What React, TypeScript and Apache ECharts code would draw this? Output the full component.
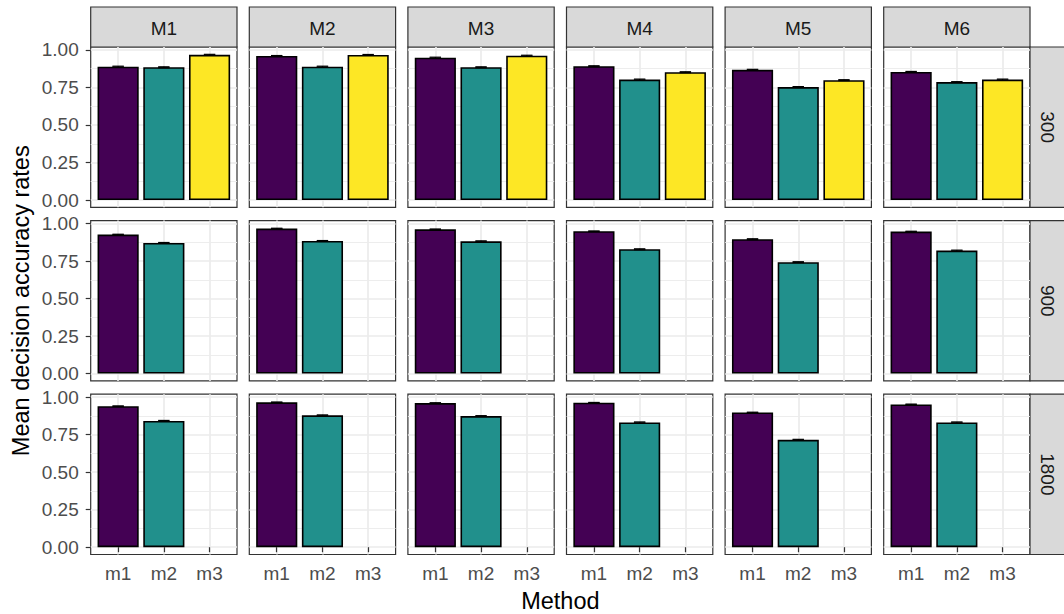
import React, { useEffect, useRef } from "react";
import * as echarts from "echarts";

// Facets
const models = ["M1", "M2", "M3", "M4", "M5", "M6"];
const sampleSizes = ["300", "900", "1800"];
const methods = ["m1", "m2", "m3"];
const methodColors = ["#440154", "#21908C", "#FDE725"];

// Mean decision accuracy per model (M1..M6), by sample size and method
const m1_300 = [0.889, 0.96, 0.949, 0.892, 0.868, 0.854];
const m2_300 = [0.885, 0.889, 0.885, 0.803, 0.753, 0.786];
const m3_300 = [0.968, 0.967, 0.962, 0.852, 0.799, 0.803];
const m1_900 = [0.927, 0.967, 0.962, 0.949, 0.896, 0.947];
const m2_900 = [0.871, 0.884, 0.882, 0.829, 0.743, 0.82];
const m1_1800 = [0.94, 0.966, 0.961, 0.963, 0.898, 0.952];
const m2_1800 = [0.842, 0.879, 0.874, 0.832, 0.716, 0.832];

// Standard errors
const se_m1_300 = [0.003, 0.003, 0.003, 0.003, 0.003, 0.003];
const se_m2_300 = [0.003, 0.003, 0.003, 0.003, 0.003, 0.003];
const se_m3_300 = [0.003, 0.003, 0.003, 0.003, 0.003, 0.003];
const se_m1_900 = [0.002, 0.002, 0.002, 0.002, 0.003, 0.002];
const se_m2_900 = [0.003, 0.003, 0.003, 0.003, 0.003, 0.003];
const se_m1_1800 = [0.002, 0.002, 0.002, 0.002, 0.002, 0.002];
const se_m2_1800 = [0.003, 0.003, 0.003, 0.003, 0.003, 0.003];

const rowValues = [
  [m1_300, m2_300, m3_300],
  [m1_900, m2_900],
  [m1_1800, m2_1800],
];
const rowErrors = [
  [se_m1_300, se_m2_300, se_m3_300],
  [se_m1_900, se_m2_900],
  [se_m1_1800, se_m2_1800],
];

const yTicks = [0, 0.25, 0.5, 0.75, 1];
const yMinorTicks = [0.125, 0.375, 0.625, 0.875];
const xTicks = [1, 2, 3];

const yMin = -0.0486;
const yMax = 1.0199;

const W = 1064;
const H = 614;
const FONT = "'Liberation Sans', Arial, Helvetica, sans-serif";
const TICK_FONT = 19;
const TITLE_FONT = 23.5;

const panelLeft = 90.7;
const panelStepX = 158.6;
const panelW = 146.3;
const panelTop = 47;
const panelStepY = 173.6;
const panelH = 160.3;
const stripSize = 40;

export default function App() {
  const ref = useRef<HTMLDivElement>(null);

  useEffect(() => {
    if (!ref.current) return;
    const chart = echarts.init(ref.current, null, { renderer: "svg" });

    const grids: any[] = [];
    const xAxes: any[] = [];
    const yAxes: any[] = [];
    const series: any[] = [];
    const graphics: any[] = [];

    const barWidth = (panelW / 3.2) * 0.9;

    sampleSizes.forEach((size, r) => {
      models.forEach((model, c) => {
        const gi = grids.length;
        const left = panelLeft + c * panelStepX;
        const top = panelTop + r * panelStepY;
        grids.push({
          left,
          top,
          width: panelW,
          height: panelH,
          show: true,
          backgroundColor: "#FFFFFF",
          borderColor: "#333333",
          borderWidth: 1.2,
        });
        const bottomRow = r === sampleSizes.length - 1;
        const firstCol = c === 0;
        xAxes.push({
          type: "value",
          gridIndex: gi,
          min: 0.4,
          max: 3.6,
          axisLine: { show: false },
          axisTick: {
            show: bottomRow,
            customValues: xTicks,
            length: 5,
            lineStyle: { color: "#333333", width: 1.2 },
          },
          axisLabel: {
            show: bottomRow,
            customValues: xTicks,
            formatter: (v: number) => methods[Math.round(v) - 1],
            fontSize: TICK_FONT,
            fontFamily: FONT,
            color: "#4D4D4D",
            margin: 9,
          },
          splitLine: { show: true, lineStyle: { color: "#EBEBEB", width: 1.7 } },
        });
        // major y axis
        yAxes.push({
          type: "value",
          gridIndex: gi,
          min: yMin,
          max: yMax,
          axisLine: { show: false },
          axisTick: {
            show: firstCol,
            customValues: yTicks,
            length: 5,
            lineStyle: { color: "#333333", width: 1.2 },
          },
          axisLabel: {
            show: firstCol,
            customValues: yTicks,
            formatter: (v: number) => v.toFixed(2),
            fontSize: TICK_FONT,
            fontFamily: FONT,
            color: "#4D4D4D",
            margin: 12,
          },
          splitLine: { show: true, lineStyle: { color: "#EBEBEB", width: 1.7 } },
        });
        const yMajorIndex = yAxes.length - 1;
        // minor y grid lines
        yAxes.push({
          type: "value",
          gridIndex: gi,
          min: yMin,
          max: yMax,
          axisLine: { show: false },
          axisTick: { show: false, customValues: yMinorTicks },
          axisLabel: { show: false, customValues: yMinorTicks },
          splitLine: { show: true, lineStyle: { color: "#EBEBEB", width: 0.9 } },
        });

        const vals = rowValues[r];
        const errs = rowErrors[r];
        series.push({
          type: "bar",
          xAxisIndex: gi,
          yAxisIndex: yMajorIndex,
          barWidth,
          data: vals.map((arr, k) => ({
            value: [k + 1, arr[c]],
            itemStyle: {
              color: methodColors[k],
              borderColor: "#000000",
              borderWidth: 1.6,
            },
          })),
        });
        series.push({
          type: "custom",
          xAxisIndex: gi,
          yAxisIndex: yMajorIndex,
          z: 5,
          data: vals.map((arr, k) => [k + 1, arr[c] - errs[k][c], arr[c] + errs[k][c]]),
          encode: { x: 0, y: [1, 2] },
          renderItem: (params: any, api: any) => {
            const x = api.value(0);
            const lo = api.coord([x, api.value(1)]);
            const hi = api.coord([x, api.value(2)]);
            const half = api.size([0.25, 0])[0] / 2;
            const style = { stroke: "#000000", lineWidth: 1.2 };
            return {
              type: "group",
              children: [
                { type: "line", shape: { x1: lo[0], y1: lo[1], x2: hi[0], y2: hi[1] }, style },
                { type: "line", shape: { x1: lo[0] - half, y1: lo[1], x2: lo[0] + half, y2: lo[1] }, style },
                { type: "line", shape: { x1: hi[0] - half, y1: hi[1], x2: hi[0] + half, y2: hi[1] }, style },
              ],
            };
          },
        });
      });
    });

    // column strips
    models.forEach((model, c) => {
      const left = panelLeft + c * panelStepX;
      graphics.push({
        type: "rect",
        shape: { x: left, y: panelTop - stripSize, width: panelW, height: stripSize },
        style: { fill: "#D9D9D9", stroke: "#333333", lineWidth: 1.2 },
      });
      graphics.push({
        type: "text",
        x: left + panelW / 2,
        y: panelTop - stripSize / 2 + 1,
        style: {
          text: model,
          fontSize: TICK_FONT,
          fontFamily: FONT,
          fill: "#1A1A1A",
          align: "center",
          verticalAlign: "middle",
        },
      });
    });

    // row strips
    const stripX = panelLeft + 5 * panelStepX + panelW;
    sampleSizes.forEach((size, r) => {
      const top = panelTop + r * panelStepY;
      graphics.push({
        type: "rect",
        shape: { x: stripX, y: top, width: stripSize, height: panelH },
        style: { fill: "#D9D9D9", stroke: "#333333", lineWidth: 1.2 },
      });
      graphics.push({
        type: "text",
        x: stripX + stripSize / 2 - 3,
        y: top + panelH / 2,
        rotation: -Math.PI / 2,
        style: {
          text: size,
          fontSize: TICK_FONT,
          fontFamily: FONT,
          fill: "#1A1A1A",
          align: "center",
          verticalAlign: "middle",
        },
      });
    });

    // axis titles
    const panelsBottom = panelTop + 2 * panelStepY + panelH;
    graphics.push({
      type: "text",
      x: 21,
      y: (panelTop + panelsBottom) / 2,
      rotation: Math.PI / 2,
      style: {
        text: "Mean decision accuracy rates",
        fontSize: TITLE_FONT,
        fontFamily: FONT,
        fill: "#000000",
        align: "center",
        verticalAlign: "middle",
      },
    });
    graphics.push({
      type: "text",
      x: (panelLeft + stripX) / 2,
      y: 601,
      style: {
        text: "Method",
        fontSize: TITLE_FONT,
        fontFamily: FONT,
        fill: "#000000",
        align: "center",
        verticalAlign: "middle",
      },
    });

    chart.setOption({
      animation: false,
      backgroundColor: "#FFFFFF",
      grid: grids,
      xAxis: xAxes,
      yAxis: yAxes,
      series,
      graphic: graphics,
    });

    return () => chart.dispose();
  }, []);

  return (
    <div
      ref={ref}
      style={{ position: "absolute", left: 0, top: 0, width: W, height: H }}
    />
  );
}
